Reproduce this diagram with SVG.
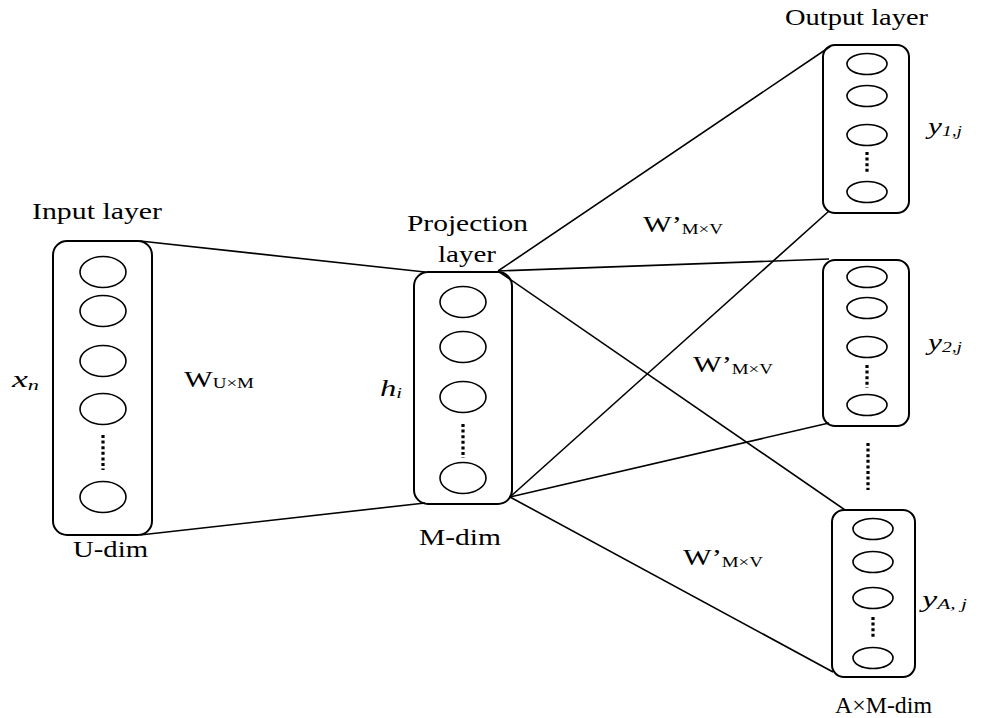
<svg xmlns="http://www.w3.org/2000/svg" width="981" height="718" viewBox="0 0 981 718">
  <style>
    .box { fill: none; stroke: #000; stroke-width: 2; }
    .unit { fill: #fff; stroke: #000; stroke-width: 1.6; }
    .dots { stroke: #000; stroke-width: 3.2; stroke-dasharray: 3 2.6; fill: none; }
    .edge { stroke: #000; stroke-width: 1.6; fill: none; }
    text { font-family: "Liberation Serif", "Times New Roman", serif; fill: #000; }
    .lbl { font-size: 24px; }
    .sub { font-size: 15px; }
    .it { font-style: italic; }
  </style>

  <!-- weight connections -->
  <g id="connectors">
    <line class="edge" x1="140" y1="241" x2="425" y2="272"/>
    <line class="edge" x1="140" y1="535" x2="425" y2="503"/>
    <line class="edge" x1="498" y1="271" x2="831" y2="46"/>
    <line class="edge" x1="498" y1="271" x2="829" y2="259"/>
    <line class="edge" x1="498" y1="271" x2="845" y2="510"/>
    <line class="edge" x1="510" y1="497" x2="829" y2="211"/>
    <line class="edge" x1="510" y1="497" x2="829" y2="423"/>
    <line class="edge" x1="510" y1="497" x2="833" y2="672"/>
  </g>

  <!-- input layer -->
  <g id="input-layer">
    <text class="lbl" x="32" y="219" textLength="130" lengthAdjust="spacingAndGlyphs">Input layer</text>
    <rect class="box" x="53" y="241" width="99" height="294" rx="14"/>
    <ellipse class="unit" cx="103" cy="272" rx="23" ry="15.5"/>
    <ellipse class="unit" cx="103" cy="311" rx="23" ry="15.5"/>
    <ellipse class="unit" cx="103" cy="361" rx="23" ry="15.5"/>
    <ellipse class="unit" cx="103" cy="409" rx="23" ry="15.5"/>
    <line class="dots" x1="103" y1="435" x2="103" y2="470"/>
    <ellipse class="unit" cx="103" cy="497" rx="23" ry="15.5"/>
    <text class="lbl it" x="12" y="387" textLength="27" lengthAdjust="spacingAndGlyphs">x<tspan class="sub" dy="3">n</tspan></text>
    <text class="lbl" x="73" y="557" textLength="75" lengthAdjust="spacingAndGlyphs">U-dim</text>
  </g>

  <!-- projection layer -->
  <g id="projection-layer">
    <text class="lbl" x="407" y="231" textLength="121" lengthAdjust="spacingAndGlyphs">Projection</text>
    <text class="lbl" x="438" y="262" textLength="58" lengthAdjust="spacingAndGlyphs">layer</text>
    <rect class="box" x="414" y="272" width="98" height="232" rx="14"/>
    <ellipse class="unit" cx="463" cy="302" rx="23" ry="15.5"/>
    <ellipse class="unit" cx="463" cy="347" rx="23" ry="15.5"/>
    <ellipse class="unit" cx="463" cy="397" rx="23" ry="15.5"/>
    <line class="dots" x1="463" y1="424" x2="463" y2="458"/>
    <ellipse class="unit" cx="463" cy="478" rx="23" ry="15.5"/>
    <text class="lbl it" x="380" y="396" textLength="22" lengthAdjust="spacingAndGlyphs">h<tspan class="sub" dy="2">i</tspan></text>
    <text class="lbl" x="419" y="545" textLength="82" lengthAdjust="spacingAndGlyphs">M-dim</text>
  </g>

  <!-- output block 1 -->
  <g id="output-1">
    <text class="lbl" x="785" y="25" textLength="143" lengthAdjust="spacingAndGlyphs">Output layer</text>
    <rect class="box" x="823" y="45" width="86" height="168" rx="12"/>
    <ellipse class="unit" cx="867" cy="64" rx="20" ry="10.5"/>
    <ellipse class="unit" cx="867" cy="96" rx="20" ry="10.5"/>
    <ellipse class="unit" cx="867" cy="135" rx="20" ry="10.5"/>
    <line class="dots" x1="867" y1="152" x2="867" y2="174"/>
    <ellipse class="unit" cx="867" cy="192" rx="20" ry="10.5"/>
    <text class="lbl it" x="928" y="134" textLength="34" lengthAdjust="spacingAndGlyphs">y<tspan class="sub" dy="2">1,j</tspan></text>
  </g>

  <!-- output block 2 -->
  <g id="output-2">
    <rect class="box" x="823" y="260" width="86" height="166" rx="12"/>
    <ellipse class="unit" cx="867" cy="277" rx="20" ry="10.5"/>
    <ellipse class="unit" cx="867" cy="308" rx="20" ry="10.5"/>
    <ellipse class="unit" cx="867" cy="347" rx="20" ry="10.5"/>
    <line class="dots" x1="867" y1="365" x2="867" y2="388"/>
    <ellipse class="unit" cx="867" cy="405" rx="20" ry="10.5"/>
    <text class="lbl it" x="928" y="350" textLength="34" lengthAdjust="spacingAndGlyphs">y<tspan class="sub" dy="2">2,j</tspan></text>
  </g>

  <!-- ellipsis between output blocks -->
  <line class="dots" x1="868" y1="443" x2="868" y2="490"/>

  <!-- output block A -->
  <g id="output-a">
    <rect class="box" x="832" y="510" width="83" height="167" rx="12"/>
    <ellipse class="unit" cx="873" cy="529" rx="20" ry="10.5"/>
    <ellipse class="unit" cx="873" cy="562" rx="20" ry="10.5"/>
    <ellipse class="unit" cx="873" cy="598" rx="20" ry="10.5"/>
    <line class="dots" x1="873" y1="617" x2="873" y2="639"/>
    <ellipse class="unit" cx="873" cy="658" rx="20" ry="10.5"/>
    <text class="lbl it" x="922" y="607" textLength="45" lengthAdjust="spacingAndGlyphs">y<tspan class="sub" dy="2">A, j</tspan></text>
    <text class="lbl" x="835" y="713" textLength="97" lengthAdjust="spacingAndGlyphs">A×M-dim</text>
  </g>

  <!-- weight matrix labels -->
  <g id="weight-labels">
    <text class="lbl" x="184" y="387" textLength="70" lengthAdjust="spacingAndGlyphs">W<tspan class="sub" dy="1">U×M</tspan></text>
    <text class="lbl" x="643" y="232" textLength="80" lengthAdjust="spacingAndGlyphs">W’<tspan class="sub" dy="2">M×V</tspan></text>
    <text class="lbl" x="693" y="372" textLength="80" lengthAdjust="spacingAndGlyphs">W’<tspan class="sub" dy="2">M×V</tspan></text>
    <text class="lbl" x="683" y="565" textLength="80" lengthAdjust="spacingAndGlyphs">W’<tspan class="sub" dy="2">M×V</tspan></text>
  </g>
</svg>
